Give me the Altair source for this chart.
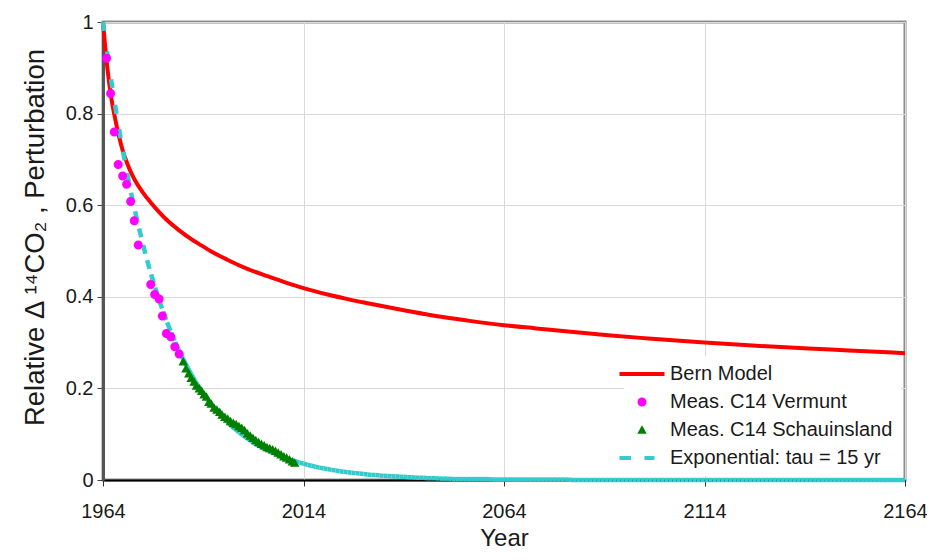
import altair as alt
import pandas as pd

# ---------------- data ----------------
series_names = ["Bern Model", "Meas. C14 Vermunt", "Meas. C14 Schauinsland", "Exponential: tau = 15 yr"]
series_colors = ["#FF0000", "#FF00FF", "#008000", "#33CCCC"]

bern_years = [1964, 1964.5, 1965, 1966, 1967, 1968, 1969, 1970, 1971, 1972, 1974, 1976, 1978, 1980,
              1983, 1986, 1988, 1991, 1995, 2000, 2005, 2010, 2014, 2020, 2025, 2030, 2040, 2047,
              2055, 2064, 2072, 2080, 2090, 2100, 2114, 2125, 2140, 2150, 2164]
bern_values = [1.000, 0.950, 0.906, 0.838, 0.790, 0.750, 0.717, 0.692, 0.671, 0.654, 0.627, 0.605,
               0.585, 0.567, 0.545, 0.526, 0.515, 0.499, 0.481, 0.461, 0.445, 0.430, 0.419, 0.405,
               0.395, 0.386, 0.369, 0.358, 0.348, 0.338, 0.331, 0.324, 0.316, 0.309, 0.300, 0.294,
               0.287, 0.283, 0.277]

vermunt_years = [1964.9, 1965.9, 1966.8, 1967.8, 1968.9, 1969.9, 1970.9, 1971.8, 1972.8, 1975.9,
                 1976.9, 1978.0, 1978.8, 1979.8, 1980.9, 1981.9, 1983.0]
vermunt_values = [0.921, 0.844, 0.760, 0.689, 0.664, 0.646, 0.608, 0.566, 0.513, 0.427, 0.405,
                  0.395, 0.358, 0.320, 0.313, 0.291, 0.275]

schau_years = [1984.0, 1984.7, 1985.4, 1986.0, 1986.7, 1987.3, 1988.0, 1988.6, 1989.2, 1989.8,
               1990.4, 1991.0, 1991.7, 1992.4, 1993.1, 1993.7, 1994.4, 1995.1, 1995.8, 1996.5,
               1997.2, 1997.9, 1998.6, 1999.3, 2000.0, 2000.7, 2001.4, 2002.1, 2002.8, 2003.5,
               2004.2, 2004.9, 2005.6, 2006.3, 2007.0, 2007.7, 2008.4, 2009.1, 2009.8, 2010.5,
               2011.2, 2011.8]
schau_values = [0.258, 0.243, 0.232, 0.222, 0.214, 0.205, 0.199, 0.194, 0.186, 0.181, 0.170,
                0.166, 0.157, 0.153, 0.148, 0.142, 0.137, 0.133, 0.128, 0.124, 0.121, 0.117,
                0.113, 0.108, 0.101, 0.096, 0.091, 0.086, 0.082, 0.078, 0.075, 0.071, 0.069,
                0.066, 0.063, 0.059, 0.055, 0.051, 0.048, 0.044, 0.040, 0.037]

exp_years = list(range(1964, 2165))
exp_values = ([1.000, 0.936, 0.875, 0.819, 0.766, 0.717, 0.670, 0.627, 0.587, 0.549,
               0.513, 0.480, 0.449, 0.420, 0.393, 0.368, 0.344, 0.322, 0.301, 0.282,
               0.264, 0.247, 0.231, 0.216, 0.202, 0.189, 0.177, 0.165, 0.155, 0.145,
               0.135, 0.127, 0.118, 0.111, 0.104, 0.097, 0.091, 0.085, 0.079, 0.074,
               0.069, 0.065, 0.061, 0.057, 0.053, 0.050, 0.046, 0.043, 0.041, 0.038,
               0.036, 0.033, 0.031, 0.029, 0.027, 0.025, 0.024, 0.022, 0.021, 0.019,
               0.018, 0.017, 0.016, 0.015, 0.014, 0.013, 0.012, 0.011, 0.011, 0.010,
               0.009, 0.009, 0.008, 0.008, 0.007, 0.007, 0.006,
               0.006, 0.005, 0.005, 0.005, 0.004, 0.004, 0.004, 0.003, 0.003, 0.003]
              + [0.002] * 10 + [0.001] * 20 + [0.0] * 84)

x_ticks = [1964, 2014, 2064, 2114, 2164]
y_ticks = [0, 0.2, 0.4, 0.6, 0.8, 1]

# ---------------- tables ----------------
bern_df = pd.DataFrame({"year": bern_years, "value": bern_values})
pts_df = pd.concat([
    pd.DataFrame({"year": vermunt_years, "value": vermunt_values, "series": series_names[1]}),
    pd.DataFrame({"year": schau_years, "value": schau_values, "series": series_names[2]}),
], ignore_index=True)
seg_df = pd.DataFrame({
    "year": exp_years[:-1], "value": exp_values[:-1],
    "year2": exp_years[1:], "value2": exp_values[1:],
})

FONT = "Liberation Sans"

X = alt.X("year:Q",
          scale=alt.Scale(domain=[1964, 2164], nice=False, zero=False),
          axis=alt.Axis(values=x_ticks, format="d", title="Year", grid=True, labelFlush=False,
                        labelFontSize=20, labelPadding=15, tickSize=6, tickColor="#333333",
                        domainColor="#000000", domainWidth=2, gridColor="#d9d9d9",
                        titleFontSize=24, titleFontWeight="normal", titleBaseline="alphabetic",
                        titleY=65, labelColor="#1a1a1a", titleColor="#1a1a1a"))
Y = alt.Y("value:Q",
          scale=alt.Scale(domain=[0, 1], nice=False),
          axis=alt.Axis(values=y_ticks, format="~g", title="Relative Δ ¹⁴CO₂ , Perturbation",
                        grid=True, labelFontSize=20, labelPadding=4, tickSize=6,
                        tickColor="#444444", domainColor="#555555", domainWidth=3,
                        gridColor="#d9d9d9", titleFontSize=27.5, titleFontWeight="normal",
                        titleX=-68, titleY=215, titleBaseline="middle", labelColor="#1a1a1a",
                        titleColor="#1a1a1a"))

shape_paths = [
    "M-4.5,-0.4H4.5V0.4H-4.5Z",
    "M-0.9,0A0.9,0.9,0,1,1,0.9,0A0.9,0.9,0,1,1,-0.9,0Z",
    "M0,-0.95L0.95,0.75L-0.95,0.75Z",
    "M-4.5,-0.4H-2.2V0.4H-4.5Z M0.5,-0.4H2.5V0.4H0.5Z",
]

LEG = alt.Legend(title=None, orient="bottom-right", offset=4, padding=8, fillColor="white",
                 labelFont=FONT, labelFontSize=20, labelColor="#1a1a1a", labelOffset=18,
                 rowPadding=8, symbolSize=100, symbolOpacity=1, symbolStrokeWidth=0,
                 labelLimit=400)

bern = alt.Chart(bern_df).mark_line(color="#FF0000", strokeWidth=4, interpolate="monotone").encode(
    x=X, y=Y)

expo = alt.Chart(seg_df).mark_rule(color="#33CCCC", strokeWidth=4.5, strokeDash=[9, 30],
                                   strokeCap="butt").encode(
    x=X, y=Y, x2="year2:Q", y2="value2:Q")

pts = alt.Chart(pts_df).mark_point(filled=True, opacity=1, size=100, strokeWidth=0).encode(
    x=X, y=Y,
    color=alt.Color("series:N", scale=alt.Scale(domain=series_names, range=series_colors), legend=LEG),
    shape=alt.Shape("series:N", scale=alt.Scale(domain=series_names, range=shape_paths), legend=LEG),
)

chart = alt.layer(bern, expo, pts).properties(
    width=802, height=458,
    autosize=alt.AutoSizeParams(type="none"),
    padding={"left": 95, "top": 14, "right": 22, "bottom": 72},
    background="white",
).configure(font=FONT).configure_view(stroke="#8c8c8c", strokeWidth=3)

chart.save("out.html", embed_options={"renderer": "svg", "actions": False})
